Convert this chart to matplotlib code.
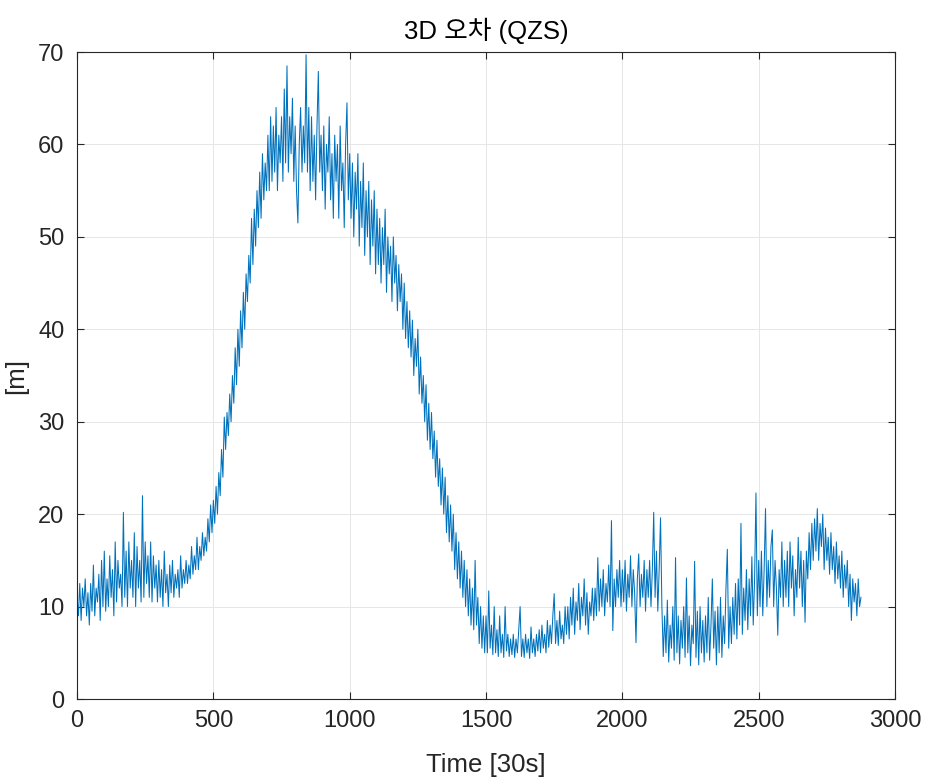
import numpy as np
import matplotlib
matplotlib.use("Agg")
import matplotlib.pyplot as plt

plt.rcParams["font.family"] = ["Liberation Sans", "Noto Sans CJK KR", "DejaVu Sans"]

STEP = 5  # one value per 5 epochs (30 s each)
ERR_3D = [
    # 0 - 95
    11, 9, 12.5, 8.5, 12, 10, 13, 9, 11.5, 8, 12.5, 9.5, 14.5, 9, 12, 10.5, 13.5, 8.5, 15, 10,
    # 100 - 195
    16, 9.5, 13, 10, 15.5, 11, 14, 9, 17, 10.5, 15, 12, 13.5, 10, 20.2, 11, 16, 10, 17, 12,
    # 200 - 295
    15, 11, 18, 10, 16.5, 12, 15, 10.5, 22, 11, 17, 12.5, 15.5, 11, 17, 10.5, 15.5, 12, 14.5, 10.5,
    # 300 - 395
    15, 11, 14, 10, 16, 11.5, 13.5, 10, 14.5, 11.5, 15, 11, 13.5, 12, 14, 11, 15.5, 12, 14, 12.5,
    # 400 - 495
    15, 12.5, 14.5, 13, 16.5, 13.5, 15.5, 14, 17.5, 14, 16.5, 15, 18, 15.5, 17.5, 16, 19.5, 17, 21, 18,
    # 500 - 595
    21.5, 19, 23, 20, 24.5, 22, 27, 24, 30.5, 27, 31, 28.5, 33, 30, 35, 32, 38, 34, 40, 36,
    # 600 - 695
    42, 38, 44, 40, 46, 43, 48, 45, 52, 47, 53, 49, 55, 51, 57, 52, 59, 54, 58, 55,
    # 700 - 795
    61, 55, 63, 56, 62, 57, 64, 55, 61, 58, 63, 56, 66, 58, 68.5, 57, 63, 59, 65, 56,
    # 800 - 895
    62, 55, 51.5, 60, 64, 57, 62, 58, 69.7, 57, 64, 55, 63, 56, 61, 54, 62, 67.9, 57, 61,
    # 900 - 995
    55, 62, 53, 60, 57, 63, 54, 59, 52, 61, 56, 60, 52, 62, 55, 58, 51, 60, 64.5, 54,
    # 1000 - 1095
    59, 52, 58, 50, 57, 53, 59, 49, 56, 51, 58, 48, 55, 50, 56, 47, 54, 49, 55, 46,
    # 1100 - 1195
    53, 47, 52, 45, 51, 47, 53, 44, 50, 46, 49, 43, 50, 45, 48, 42, 47, 43, 46, 40,
    # 1200 - 1295
    45, 39, 43, 38, 42, 37, 41, 35, 39, 36, 40, 33, 37, 32, 35, 30, 34, 28, 32, 27,
    # 1300 - 1395
    31, 26, 29, 24, 28, 23, 26, 21, 25, 20, 24, 18, 22, 17, 21, 16, 20, 14, 18, 13,
    # 1400 - 1495
    17, 12, 16, 11, 15, 10, 14, 9, 13, 8, 12, 7.5, 15, 8, 11, 6, 10, 5.5, 9, 5,
    # 1500 - 1595
    9, 5, 11.7, 5.5, 8, 4.8, 10, 5, 7.5, 4.6, 9, 5, 7, 4.5, 10, 5.2, 7, 4.6, 6.5, 4.8,
    # 1600 - 1695
    7, 4.5, 6.5, 5, 7.5, 10, 4.6, 6.5, 4.5, 7, 5, 6.5, 4.4, 7.8, 5, 6.5, 4.6, 7, 5.2, 7.5,
    # 1700 - 1795
    5, 8, 5.5, 7, 5, 8.5, 5.6, 8, 6, 9, 11.4, 6, 8.5, 5.8, 9.5, 6.5, 8, 6, 10, 7,
    # 1800 - 1895
    10, 6.5, 11, 8, 12, 7, 10.5, 8.5, 12.5, 7.5, 11, 9, 13, 8, 11.5, 7, 10.5, 9, 12, 8.5,
    # 1900 - 1995
    12, 9, 15.3, 9.5, 13, 10, 14, 9, 12.5, 10.5, 14.5, 10, 19.3, 7.4, 13, 10, 14, 11, 15, 10,
    # 2000 - 2095
    14, 10.5, 15, 9.5, 13.5, 11, 15.5, 10, 14, 11.5, 6.1, 13, 15.7, 10, 13.5, 11, 15, 9.5, 14, 11,
    # 2100 - 2195
    15, 10, 14, 20.2, 11, 16, 9.5, 14, 19.6, 10, 4.6, 9, 5, 10.7, 4, 8, 5.5, 10, 4.2, 15.3,
    # 2200 - 2295
    5, 9, 3.8, 8.5, 5.5, 10, 4.5, 13.1, 5, 9, 3.6, 8, 6, 14.9, 4.5, 9.5, 3.7, 10, 5, 8.5,
    # 2300 - 2395
    4, 9, 5, 11, 4.2, 8, 13, 5.5, 9.5, 3.7, 10, 5, 11, 4.5, 9, 6, 12, 16.2, 5.5, 10,
    # 2400 - 2495
    6, 11, 7, 12.5, 6.5, 13, 8, 19, 7, 12, 8.5, 14, 7.5, 13, 9, 15.4, 8, 13, 22.3, 9,
    # 2500 - 2595
    15, 10, 16, 9, 14, 20.6, 10, 15, 11, 16.5, 18.3, 10, 15, 12, 6.9, 14, 11, 17, 10, 15,
    # 2600 - 2695
    11, 16, 10, 17, 12, 15.5, 9, 14, 11, 17.5, 12, 16, 10, 15, 8.3, 16, 13, 18, 14, 19,
    # 2700 - 2795
    15, 19.5, 16, 20.6, 15, 19, 16.5, 20, 14, 18.5, 15, 17.5, 13.5, 18, 14, 16.5, 12.5, 17, 13, 15.5,
    # 2800 - 2875
    12, 16, 11, 14.5, 12, 15, 10, 13.5, 8.5, 13, 10.5, 12.5, 9, 13, 10, 11,
]
epoch = np.arange(len(ERR_3D)) * STEP

AX_COL = "#262626"
fig = plt.figure(figsize=(9.27, 7.82), dpi=100)
ax = fig.add_axes([0.0831, 0.1061, 0.8824, 0.8274])
ax.plot(epoch, ERR_3D, color="#0072BD", lw=0.75)

ax.set_xlim(0, 3000)
ax.set_ylim(0, 70)
ax.set_xticks(np.arange(0, 3001, 500))
ax.set_yticks(np.arange(0, 71, 10))
ax.grid(True, color="#e6e6e6", lw=0.7)
ax.set_axisbelow(True)
ax.tick_params(direction="in", top=True, right=True, length=5, width=0.8,
               colors=AX_COL, labelsize=17)
ax.tick_params(axis="y", pad=9)
ax.tick_params(axis="x", pad=8)
for s in ax.spines.values():
    s.set_color(AX_COL); s.set_linewidth(0.8)

ax.set_title("3D 오차 (QZS)", fontsize=18.5, color="black", pad=9.5)
ax.set_xlabel("Time [30s]", fontsize=18.5, color=AX_COL, labelpad=15)
ax.set_ylabel("[m]", fontsize=18.5, color=AX_COL, labelpad=7)

fig.savefig("out.png", dpi=100)
